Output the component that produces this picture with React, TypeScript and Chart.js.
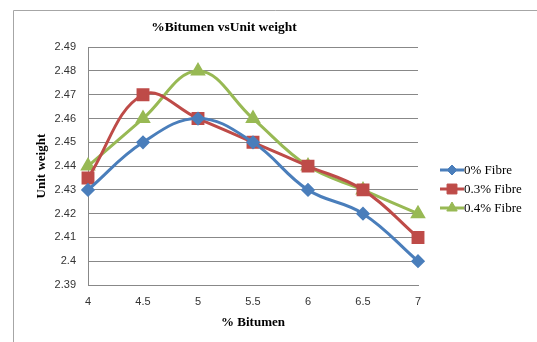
import React, { useEffect, useRef } from 'react';
import { Chart, registerables } from 'chart.js';
import { drawPoint } from 'chart.js/helpers';

Chart.register(...registerables);

const categories = ['4', '4.5', '5', '5.5', '6', '6.5', '7'];
const fibre0 = [2.43, 2.45, 2.46, 2.45, 2.43, 2.42, 2.4];
const fibre03 = [2.435, 2.47, 2.46, 2.45, 2.44, 2.43, 2.41];
const fibre04 = [2.44, 2.46, 2.48, 2.46, 2.44, 2.43, 2.42];
const seriesNames = ['0% Fibre', '0.3% Fibre', '0.4% Fibre'];
const yMin = 2.39;
const yMax = 2.49;
const yStep = 0.01;

const frame = {
  id: 'frame',
  beforeDraw(chart: any) {
    const ctx = chart.ctx;
    ctx.save();
    ctx.fillStyle = '#ffffff';
    ctx.fillRect(0, 0, chart.width, chart.height);
    ctx.strokeStyle = '#a6a6a6';
    ctx.lineWidth = 1;
    ctx.beginPath();
    ctx.moveTo(13.5, chart.height + 2);
    ctx.lineTo(13.5, 10.5);
    ctx.lineTo(chart.width + 2, 10.5);
    ctx.stroke();
    ctx.restore();
  },
};

const customLegend = {
  id: 'customLegend',
  afterDraw(chart: any) {
    const ctx = chart.ctx;
    const x0 = 440;
    const x1 = 464;
    const yStart = 170;
    const gap = 19;
    ctx.save();
    chart.data.datasets.forEach((ds: any, i: number) => {
      const y = yStart + i * gap;
      ctx.strokeStyle = ds.borderColor;
      ctx.lineWidth = 3;
      ctx.beginPath();
      ctx.moveTo(x0, y);
      ctx.lineTo(x1, y);
      ctx.stroke();
      ctx.fillStyle = ds.pointBackgroundColor;
      ctx.strokeStyle = ds.pointBorderColor;
      ctx.lineWidth = 1;
      drawPoint(ctx, { pointStyle: ds.pointStyle, radius: ds.pointRadius, rotation: 0, borderWidth: 1 }, (x0 + x1) / 2, y);
      ctx.fillStyle = '#000000';
      ctx.font = '13px "Liberation Serif"';
      ctx.textBaseline = 'middle';
      ctx.textAlign = 'left';
      ctx.fillText(ds.label, x1, y + 1);
    });
    ctx.restore();
  },
};

export default function App() {
  const ref = useRef<HTMLCanvasElement>(null);
  useEffect(() => {
    if (!ref.current) return;
    const mk = (label: string, data: number[], color: string, style: string, r: number) => ({
      label,
      data,
      borderColor: color,
      backgroundColor: color,
      pointBackgroundColor: color,
      pointBorderColor: color,
      pointStyle: style,
      pointRadius: r,
      borderWidth: 3,
      tension: 0.4,
    });
    const chart = new Chart(ref.current, {
      type: 'line',
      data: {
        labels: categories,
        datasets: [
          mk(seriesNames[0], fibre0, '#4a7ebb', 'rectRot', 5),
          mk(seriesNames[1], fibre03, '#be4b48', 'rect', 7),
          mk(seriesNames[2], fibre04, '#98b954', 'triangle', 6),
        ],
      },
      options: {
        animation: false,
        responsive: true,
        maintainAspectRatio: false,
        layout: { padding: { left: 30, right: 119, top: 0, bottom: 4 } },
        plugins: {
          legend: { display: false },
          tooltip: { enabled: false },
          title: {
            display: true,
            text: '%Bitumen vsUnit weight',
            color: '#000',
            font: { family: '"Liberation Serif"', size: 13.5, weight: 'bold' },
            padding: { top: 19, bottom: 12 },
          },
        },
        scales: {
          x: {
            type: 'category',
            offset: false,
            grid: { display: false, drawTicks: false },
            border: { display: true, color: '#888888', width: 1 },
            ticks: {
              color: '#333',
              font: { family: '"Liberation Sans"', size: 11 },
              padding: 10,
              maxRotation: 0,
            },
            title: {
              display: true,
              text: '% Bitumen',
              color: '#000',
              font: { family: '"Liberation Serif"', size: 13, weight: 'bold' },
              padding: { top: 8, bottom: 8 },
            },
            afterFit: (s: any) => {
              s.height = 53;
            },
          },
          y: {
            min: yMin,
            max: yMax,
            grid: { color: '#888888', drawTicks: false },
            border: { display: true, color: '#888888', width: 1 },
            ticks: {
              stepSize: yStep,
              color: '#333',
              font: { family: '"Liberation Sans"', size: 11 },
              padding: 12,
              callback: (v: any) => String(Number(Number(v).toFixed(2))),
            },
            title: {
              display: true,
              text: 'Unit weight',
              color: '#000',
              font: { family: '"Liberation Serif"', size: 13, weight: 'bold' },
              padding: { top: 4, bottom: 8 },
            },
            afterFit: (s: any) => {
              s.width = 58;
            },
          },
        },
      },
      plugins: [frame, customLegend],
    });
    return () => chart.destroy();
  }, []);
  return (
    <div style={{ position: 'fixed', left: 0, top: 0, width: 537, height: 342 }}>
      <canvas ref={ref} />
    </div>
  );
}
